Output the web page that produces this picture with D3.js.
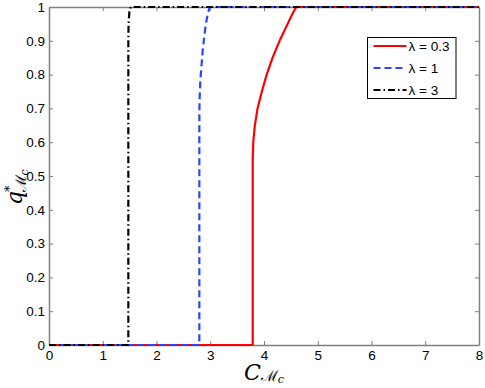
<!DOCTYPE html>
<html>
<head>
<meta charset="utf-8">
<script src="https://cdn.jsdelivr.net/npm/d3@7"></script>
<style>
  body { margin: 0; background: #fff; }
  text { font-family: "Liberation Sans", Arial, sans-serif; }
</style>
</head>
<body>
<svg id="drawing_region"></svg>
<script>
// series
const xRed = [0, 3.79, 3.79, 3.80, 3.83, 3.88, 3.96, 4.05, 4.16, 4.29, 4.44, 4.53, 4.60, 8];
const yRed = [0, 0, 0.55, 0.60, 0.65, 0.70, 0.75, 0.80, 0.85, 0.90, 0.95, 0.98, 1, 1];
const xBlue = [0, 2.797, 2.797, 2.80, 2.816, 2.86, 2.915, 2.955, 2.99, 8];
const yBlue = [0, 0, 0.65, 0.72, 0.784, 0.873, 0.947, 0.98, 1, 1];
const xBlack = [0, 1.476, 1.476, 1.48, 1.495, 1.52, 8];
const yBlack = [0, 0, 0.9, 0.95, 0.985, 1, 1];

const seriesNames = ['λ = 0.3', 'λ = 1', 'λ = 3'];
const xTicks = [0, 1, 2, 3, 4, 5, 6, 7, 8];
const xTickLabels = ['0', '1', '2', '3', '4', '5', '6', '7', '8'];
const yTicks = [0, 0.1, 0.2, 0.3, 0.4, 0.5, 0.6, 0.7, 0.8, 0.9, 1];
const yTickLabels = ['0', '0.1', '0.2', '0.3', '0.4', '0.5', '0.6', '0.7', '0.8', '0.9', '1'];

const width = 485, height = 388;
const margin = {top: 7, right: 6, bottom: 43, left: 49};
const inner_width = width - margin.left - margin.right;
const inner_height = height - margin.top - margin.bottom;

const svg = d3.select('#drawing_region').attr('width', width).attr('height', height);
const chart = svg.append('g').attr('transform', `translate(${margin.left}, ${margin.top})`);

const xscale = d3.scaleLinear().domain([0, 8]).range([0, inner_width]);
const yscale = d3.scaleLinear().domain([0, 1]).range([inner_height, 0]);

// axes with inward ticks, mirrored on top and right
const styleAxis = g => {
  g.select('.domain').attr('stroke', '#808080').attr('stroke-width', 1.5);
  g.selectAll('.tick line').attr('stroke', '#808080');
  g.selectAll('.tick text').attr('fill', '#000').style('font-size', '13.5px');
};
chart.append('g').attr('transform', `translate(0, ${inner_height})`)
  .call(d3.axisBottom(xscale).tickValues(xTicks).tickFormat((d, i) => xTickLabels[i]).tickSize(-4).tickSizeOuter(0).tickPadding(5))
  .call(styleAxis);
chart.append('g')
  .call(d3.axisLeft(yscale).tickValues(yTicks).tickFormat((d, i) => yTickLabels[i]).tickSize(-4).tickSizeOuter(0).tickPadding(4))
  .call(styleAxis);
chart.append('g')
  .call(d3.axisTop(xscale).tickValues(xTicks).tickFormat('').tickSize(-4).tickSizeOuter(0))
  .call(styleAxis);
chart.append('g').attr('transform', `translate(${inner_width}, 0)`)
  .call(d3.axisRight(yscale).tickValues(yTicks).tickFormat('').tickSize(-4).tickSizeOuter(0))
  .call(styleAxis);
chart.selectAll('.tick text').attr('font-family', null);

const line = d3.line().x(d => xscale(d[0])).y(d => yscale(d[1]));
const series = [
  {x: xRed, y: yRed, color: '#ff0000', dash: null},
  {x: xBlue, y: yBlue, color: '#2a44ff', dash: '7,4'},
  {x: xBlack, y: yBlack, color: '#000000', dash: '7,3,1.5,3'}
];
series.forEach(s => {
  chart.append('path')
    .attr('d', line(d3.zip(s.x, s.y)))
    .attr('fill', 'none')
    .attr('stroke', s.color)
    .attr('stroke-width', 2.2)
    .attr('stroke-linejoin', 'round')
    .attr('stroke-dasharray', s.dash);
});

// legend
const legend = svg.append('g').attr('transform', 'translate(367.5, 37.5)');
legend.append('rect').attr('width', 88.5).attr('height', 61)
  .attr('fill', '#fff').attr('stroke', '#000').attr('stroke-width', 1);
series.forEach((s, i) => {
  const y = 8.5 + i * 22;
  legend.append('line').attr('x1', 6).attr('x2', 39).attr('y1', y).attr('y2', y)
    .attr('stroke', s.color).attr('stroke-width', 2.2).attr('stroke-dasharray', s.dash);
  legend.append('text').attr('x', 41).attr('y', y + 5)
    .style('font-size', '13.5px').text(seriesNames[i]);
});

// axis labels
const xlab = svg.append('text').attr('x', 244).attr('y', 380)
  .style('font-family', '"DejaVu Serif", serif');
xlab.append('tspan').style('font-style', 'italic').style('font-size', '22px').text('C');
xlab.append('tspan').attr('dy', 1).style('font-size', '15px').text('ℳ');
xlab.append('tspan').attr('dy', 2).style('font-style', 'italic').style('font-size', '11px').text('c');

const ylab = svg.append('text').attr('transform', 'translate(22, 205) rotate(-90)')
  .style('font-family', '"DejaVu Serif", serif');
ylab.append('tspan').style('font-style', 'italic').style('font-size', '22px').text('q');
ylab.append('tspan').attr('dx', -1).attr('dy', -8).style('font-size', '13px').text('*');
ylab.append('tspan').attr('dx', -7).attr('dy', 12).style('font-size', '15px').text('ℳ');
ylab.append('tspan').attr('dy', 2).style('font-style', 'italic').style('font-size', '11px').text('c');
</script>
</body>
</html>
